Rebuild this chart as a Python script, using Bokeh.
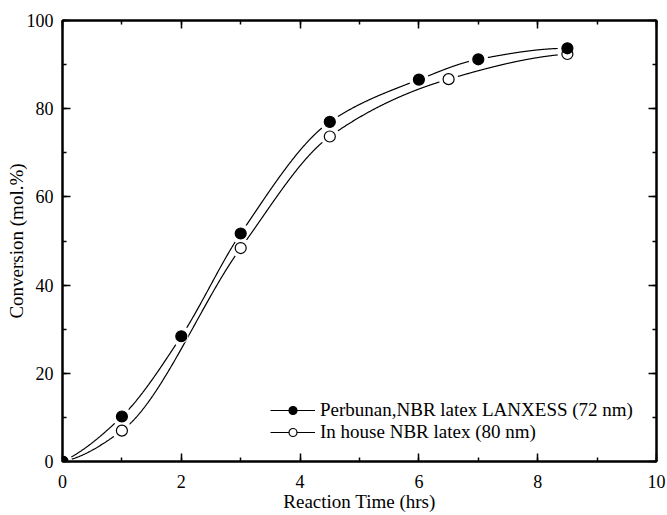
import numpy as np
from bokeh.plotting import figure
from bokeh.models import (ColumnDataSource, LinearAxis, SingleIntervalTicker,
                          Range1d, Legend, LegendItem, CustomJSTickFormatter)
from bokeh.embed import file_html
from bokeh.resources import INLINE

# ---- data ----
x_perbunan = [0, 1, 2, 3, 4.5, 6, 7, 8.5]
y_perbunan = [0, 10.2, 28.4, 51.7, 77.0, 86.6, 91.2, 93.7]
x_inhouse = [0, 1, 3, 4.5, 6.5, 8.5]
y_inhouse = [0, 7.0, 48.4, 73.7, 86.7, 92.4]
label_perbunan = "Perbunan,NBR latex LANXESS (72 nm)"
label_inhouse = "In house NBR latex (80 nm)"
x_label = "Reaction Time (hrs)"
y_label = "Conversion (mol.%)"

FONT = "Liberation Serif"
FRAME_W, FRAME_H = 594, 441
XMAX, YMAX = 10, 100
SX, SY = FRAME_W / XMAX, FRAME_H / YMAX


def pchip(x, y, xs):
    x = np.asarray(x, float); y = np.asarray(y, float)
    n = len(x); h = np.diff(x); d = np.diff(y) / h
    m = np.zeros(n)
    for k in range(1, n - 1):
        if d[k - 1] * d[k] <= 0:
            m[k] = 0
        else:
            w1 = 2 * h[k] + h[k - 1]; w2 = h[k] + 2 * h[k - 1]
            m[k] = (w1 + w2) / (w1 / d[k - 1] + w2 / d[k])
    m[0] = ((2 * h[0] + h[1]) * d[0] - h[0] * d[1]) / (h[0] + h[1])
    if np.sign(m[0]) != np.sign(d[0]): m[0] = 0
    m[-1] = ((2 * h[-1] + h[-2]) * d[-1] - h[-1] * d[-2]) / (h[-1] + h[-2])
    if np.sign(m[-1]) != np.sign(d[-1]): m[-1] = 0
    idx = np.clip(np.searchsorted(x, xs) - 1, 0, n - 2)
    t = (xs - x[idx]) / h[idx]
    h00 = 2 * t**3 - 3 * t**2 + 1; h10 = t**3 - 2 * t**2 + t
    h01 = -2 * t**3 + 3 * t**2; h11 = t**3 - t**2
    return (h00 * y[idx] + h10 * h[idx] * m[idx] + h01 * y[idx + 1]
            + h11 * h[idx] * m[idx + 1])


def gapped_curve(x, y, gap_px=9.5):
    xs = np.linspace(x[0], x[-1], 1200)
    ys = pchip(x, y, xs)
    mask = np.zeros(len(xs), bool)
    for px, py in zip(x, y):
        dist = np.hypot((xs - px) * SX, (ys - py) * SY)
        mask |= dist < gap_px
    ys = ys.copy(); ys[mask] = np.nan
    return xs, ys


p = figure(width=667, height=515, output_backend="svg", toolbar_location=None,
           x_range=Range1d(0, XMAX), y_range=Range1d(0, YMAX),
           frame_width=FRAME_W, frame_height=FRAME_H,
           min_border_left=62, min_border_right=11, min_border_top=20,
           min_border_bottom=54, x_axis_type=None, y_axis_type=None)
p.grid.visible = False
p.outline_line_color = "black"
p.outline_line_width = 2
p.background_fill_color = "white"
p.border_fill_color = "white"


def make_axis(ticker, labels=True, label=None):
    ax = LinearAxis(ticker=ticker)
    ax.axis_line_width = 2
    ax.axis_line_color = "black"
    ax.major_tick_in = 8
    ax.major_tick_out = 0
    ax.minor_tick_in = 4
    ax.minor_tick_out = 0
    ax.major_tick_line_width = 1.5
    ax.minor_tick_line_width = 1.5
    ax.major_label_text_font = FONT
    ax.major_label_text_font_size = "18px"
    ax.major_label_text_color = "black"
    if not labels:
        ax.formatter = CustomJSTickFormatter(code="return '';")
        ax.major_label_standoff = 0
    if label:
        ax.axis_label = label
        ax.axis_label_text_font = FONT
        ax.axis_label_text_font_size = "19px"
        ax.axis_label_text_font_style = "normal"
        ax.axis_label_text_color = "black"
    return ax


bx = make_axis(SingleIntervalTicker(interval=2, num_minor_ticks=2), True, x_label)
bx.major_label_standoff = 13
bx.axis_label_standoff = 0
ly = make_axis(SingleIntervalTicker(interval=20, num_minor_ticks=2), True, y_label)
ly.major_label_standoff = 9
ly.axis_label_standoff = -3
p.add_layout(bx, "below")
p.add_layout(ly, "left")
p.add_layout(make_axis(SingleIntervalTicker(interval=2, num_minor_ticks=2), False), "above")
p.add_layout(make_axis(SingleIntervalTicker(interval=20, num_minor_ticks=2), False), "right")

# curves with gaps around their own markers
cxf, cyf = gapped_curve(x_perbunan, y_perbunan)
cxi, cyi = gapped_curve(x_inhouse, y_inhouse)
line_f = p.line(cxf, cyf, line_color="black", line_width=1.2)
line_i = p.line(cxi, cyi, line_color="black", line_width=1.2)

src_f = ColumnDataSource(dict(x=x_perbunan, y=y_perbunan))
src_i = ColumnDataSource(dict(x=x_inhouse, y=y_inhouse))

# small white halos (used for the legend glyph gap)
ws_i = p.scatter("x", "y", source=src_i, marker="circle", size=14,
                 fill_color="white", line_color=None)
ws_f = p.scatter("x", "y", source=src_f, marker="circle", size=14,
                 fill_color="white", line_color=None)

mk_i = p.scatter("x", "y", source=src_i, marker="circle", size=11,
                 fill_color="white", line_color="black", line_width=1.2)
mk_f = p.scatter("x", "y", source=src_f, marker="circle", size=11,
                 fill_color="black", line_color="black", line_width=1.2)

legend = Legend(items=[
    LegendItem(label=label_perbunan, renderers=[line_f, ws_f, mk_f]),
    LegendItem(label=label_inhouse, renderers=[line_i, ws_i, mk_i]),
], location=(208, 18))
legend.border_line_color = None
legend.background_fill_alpha = 0
legend.glyph_width = 45
legend.glyph_height = 20
legend.label_height = 20
legend.spacing = -3
legend.padding = 5
legend.margin = 0
legend.label_standoff = 5
legend.label_text_font = FONT
legend.label_text_font_size = "19px"
legend.label_text_color = "black"
p.add_layout(legend)

open("out.html", "w").write(file_html(p, INLINE))
